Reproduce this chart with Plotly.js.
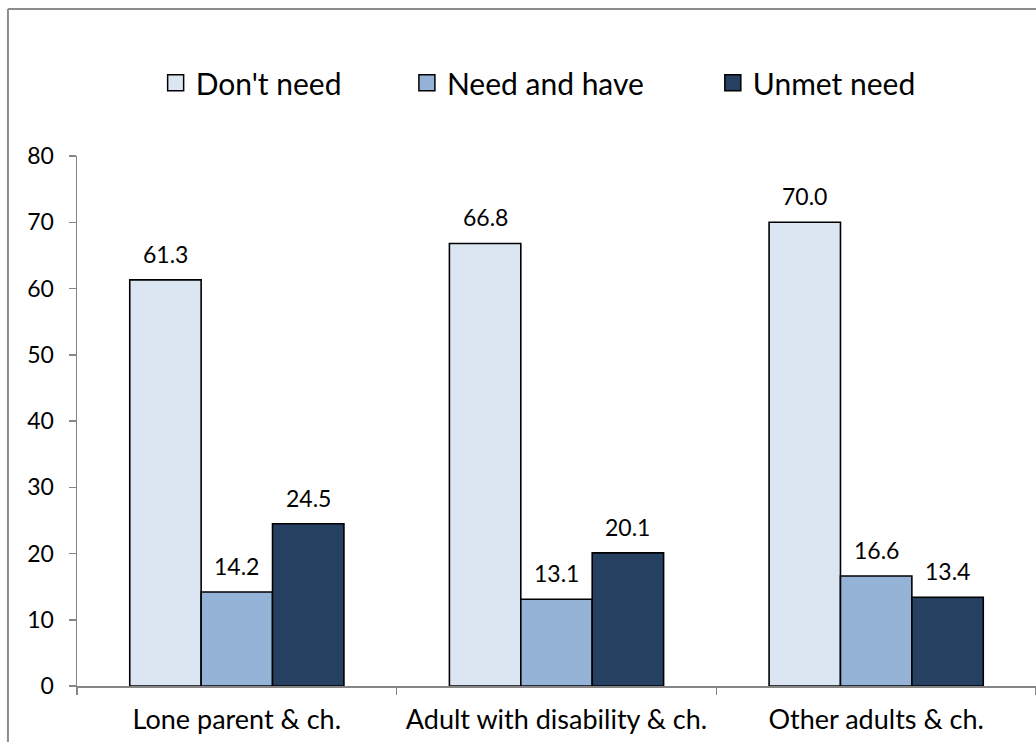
<!DOCTYPE html>
<html>
<head>
<meta charset="utf-8">
<script src="https://cdn.plot.ly/plotly-3.0.1.min.js"></script>
<style>
html,body{margin:0;padding:0;background:#fff;}
#chart{width:1036px;height:742px;}
</style>
</head>
<body>
<div id="chart"></div>
<script>
const categories = ["Lone parent & ch.", "Adult with disability & ch.", "Other adults & ch."];
const seriesNames = ["Don't need", "Need and have", "Unmet need"];
const dontNeed = [61.3, 66.8, 70.0];
const needAndHave = [14.2, 13.1, 16.6];
const unmetNeed = [24.5, 20.1, 13.4];
const yTicks = [0, 10, 20, 30, 40, 50, 60, 70, 80];

const seriesValues = [dontNeed, needAndHave, unmetNeed];
const colors = ["#dce6f2", "#95b3d7", "#254061"];
const FONT = "Lato, 'Open Sans', sans-serif";
const legendIds = ["legend", "legend2", "legend3"];
const legendX = [0.082, 0.344, 0.663];

const traces = seriesValues.map((vals, i) => ({
  type: "bar",
  name: seriesNames[i],
  x: categories,
  y: vals,
  marker: {color: colors[i], line: {color: "#000", width: 1.6}},
  showlegend: false,
  hoverinfo: "skip"
}));

// legend entries (one legend per series so each can sit where the reference has it)
seriesNames.forEach((name, i) => {
  traces.push({
    type: "scatter", mode: "markers", name: name,
    x: [categories[0]], y: [null],
    marker: {symbol: "square", size: 16, color: colors[i], line: {color: "#000", width: 1.5}},
    legend: legendIds[i], showlegend: true, hoverinfo: "skip"
  });
});

// data labels placed above each bar, via data coordinates
const barPx = 71.3;
const annotations = [];
seriesValues.forEach((vals, i) => {
  vals.forEach((v, j) => {
    annotations.push({
      x: categories[j], y: v, xref: "x", yref: "y",
      text: v.toFixed(1), showarrow: false,
      xshift: (i - 1) * barPx, yshift: 26, yanchor: "middle",
      font: {family: FONT, size: 23, color: "#000"}
    });
  });
});

const legendBase = (x) => ({
  orientation: "h", x: x, y: 1.138, xanchor: "left", yanchor: "middle",
  font: {family: FONT, size: 30, color: "#000"},
  itemwidth: 30, bgcolor: "rgba(0,0,0,0)", borderwidth: 0
});

const layout = {
  width: 1036, height: 742,
  margin: {l: 77, r: 0, t: 156, b: 56},
  paper_bgcolor: "#fff", plot_bgcolor: "#fff",
  barmode: "group", bargap: 0.33, bargroupgap: 0,
  font: {family: FONT, color: "#000"},
  showlegend: true,
  legend: legendBase(legendX[0]),
  legend2: legendBase(legendX[1]),
  legend3: legendBase(legendX[2]),
  xaxis: {
    type: "category", showline: true, linecolor: "#868686", linewidth: 1.5,
    ticks: "outside", tickson: "boundaries", ticklen: 7, tickcolor: "#868686", tickwidth: 1.5,
    tickfont: {family: FONT, size: 27, color: "#000"}, ticklabelstandoff: 9,
    showgrid: false, zeroline: false, fixedrange: true
  },
  yaxis: {
    range: [0, 80], tickvals: yTicks, ticktext: yTicks.map(String),
    showline: true, linecolor: "#868686", linewidth: 1.5,
    ticks: "outside", ticklen: 7, tickcolor: "#868686", tickwidth: 1.5,
    tickfont: {family: FONT, size: 23, color: "#000"}, ticklabelstandoff: 10,
    showgrid: false, zeroline: false, fixedrange: true
  },
  annotations: annotations,
  shapes: [
    {type: "line", xref: "paper", yref: "paper", x0: -0.072, x1: -0.072, y0: 1.2774, y1: -0.2,
     line: {color: "#8c8c8c", width: 2}},
    {type: "line", xref: "paper", yref: "paper", x0: -0.072, x1: 1.05, y0: 1.2774, y1: 1.2774,
     line: {color: "#8c8c8c", width: 2}}
  ]
};

Plotly.newPlot("chart", traces, layout, {displayModeBar: false, staticPlot: true});
</script>
</body>
</html>
